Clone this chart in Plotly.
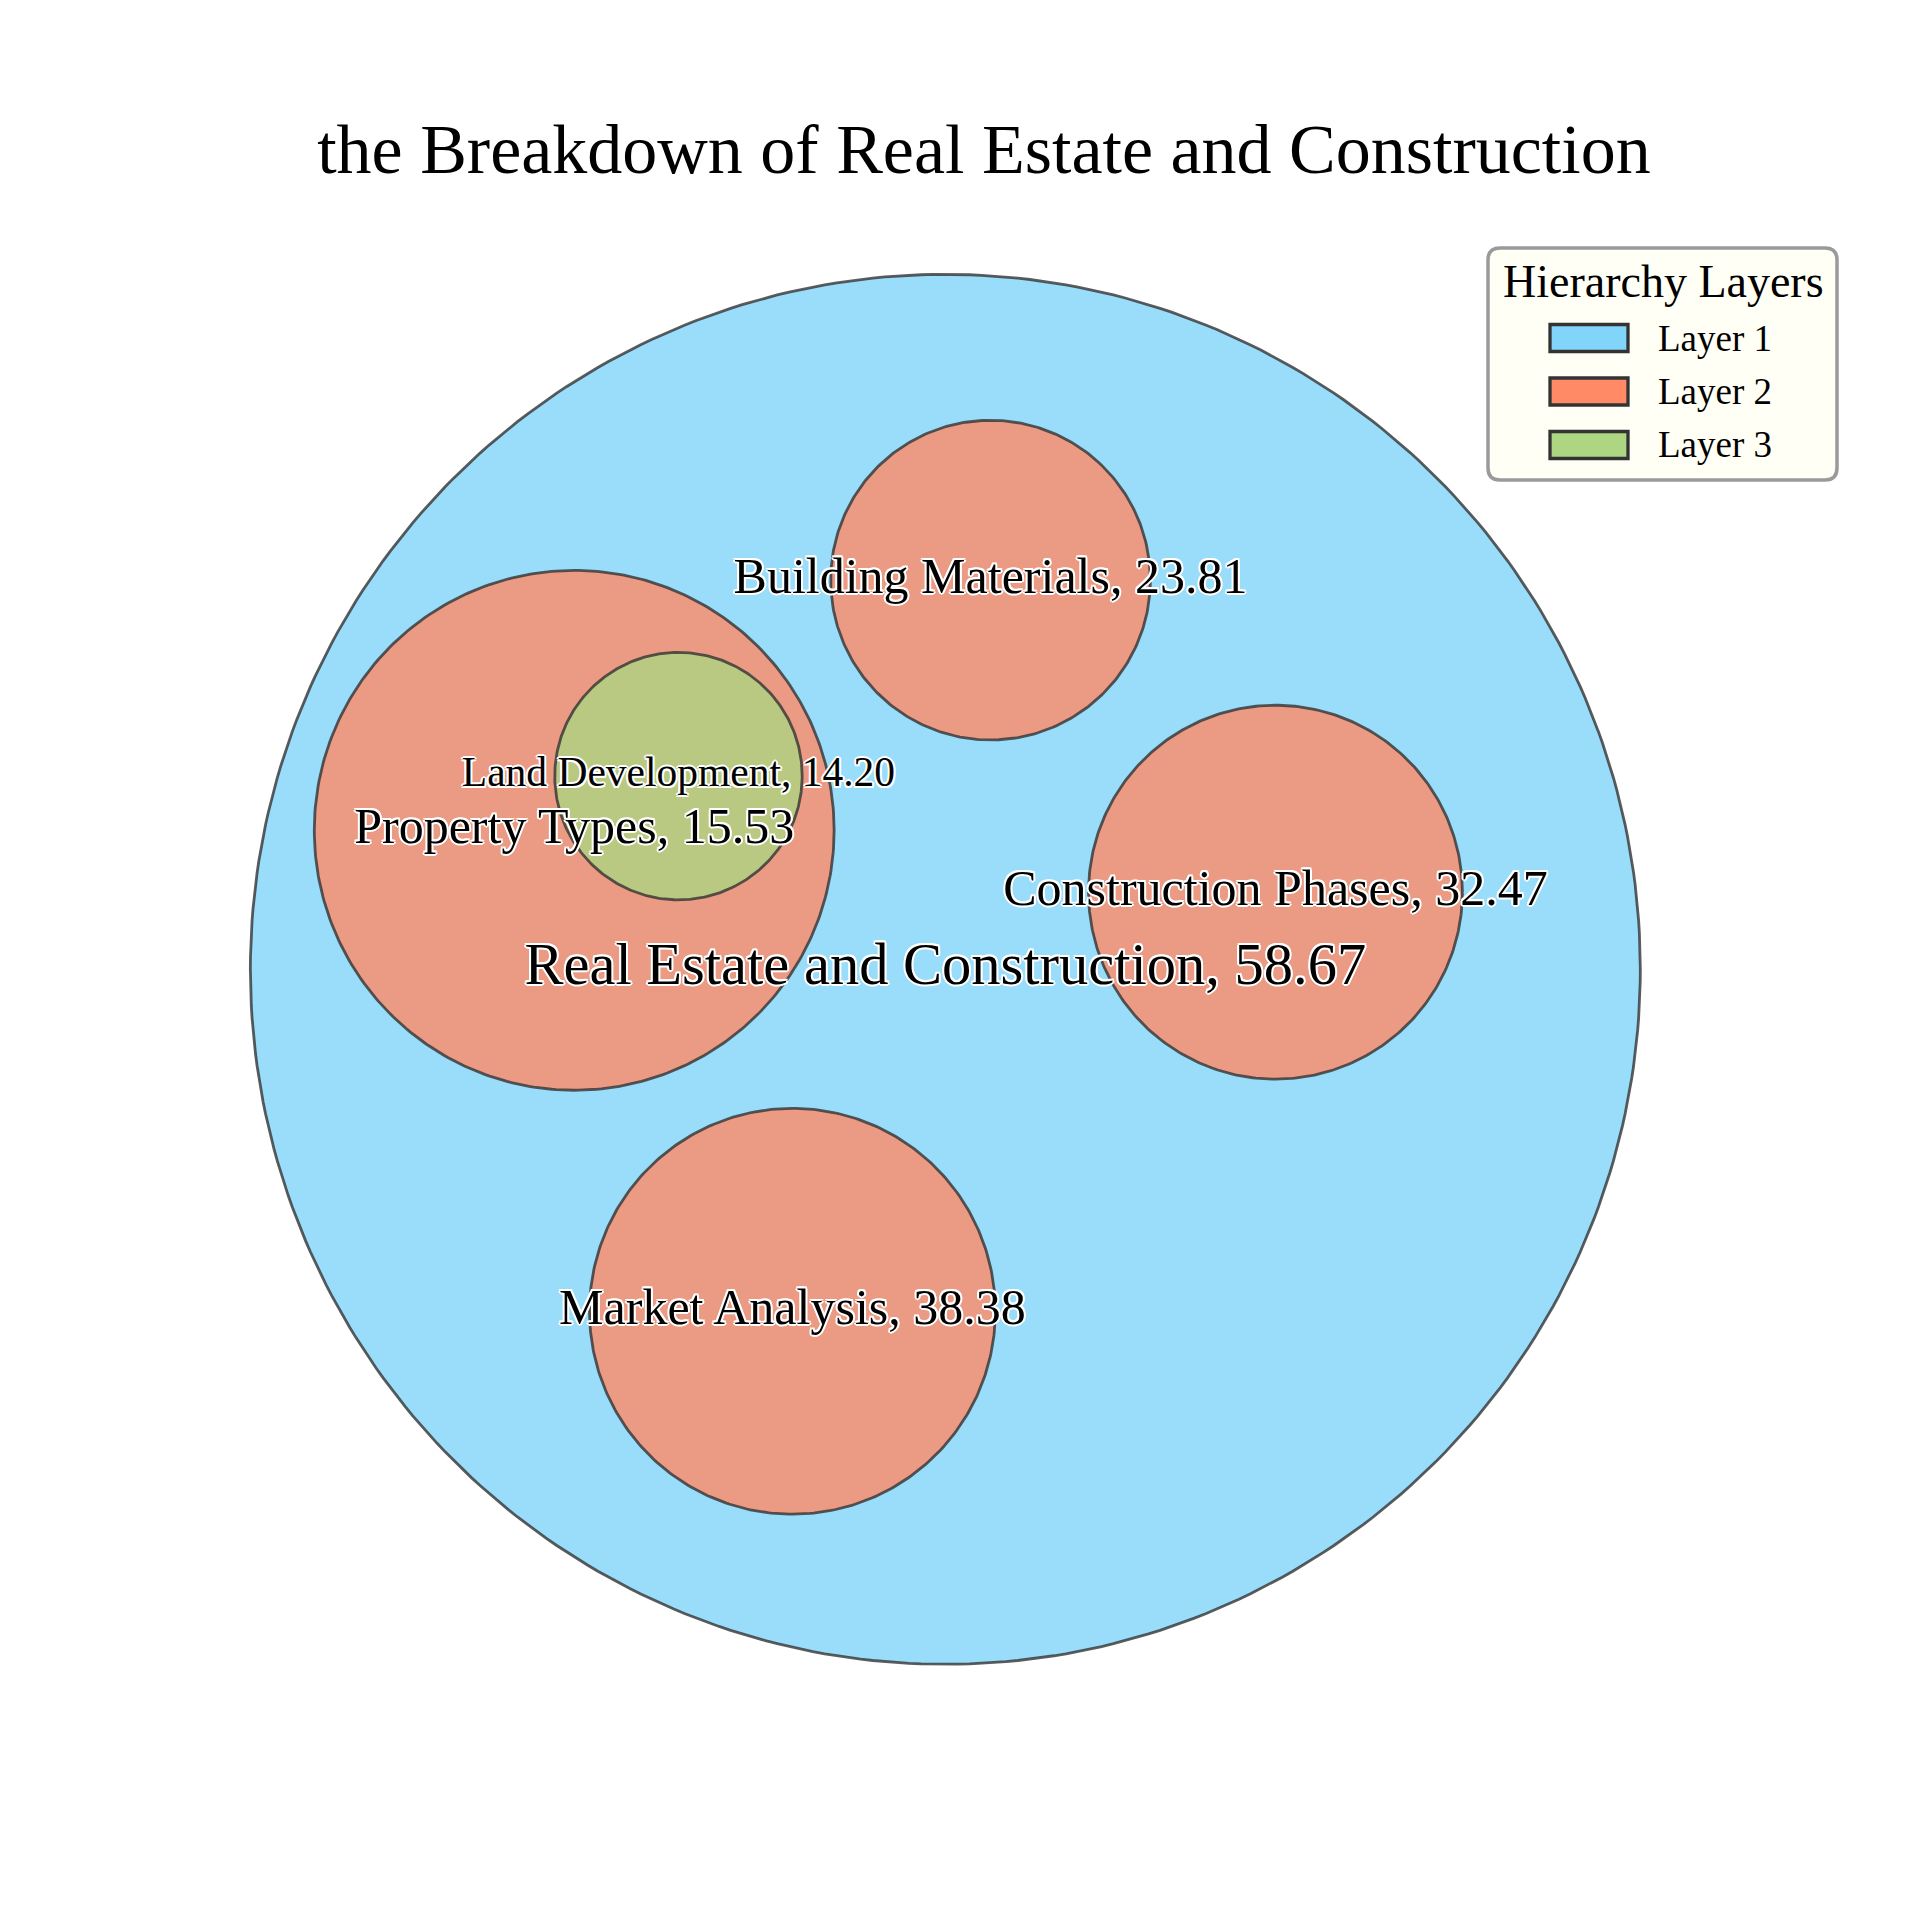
import numpy as np
import plotly.graph_objects as go

# ---- data ----
names = ["Real Estate and Construction", "Property Types", "Land Development",
         "Building Materials", "Construction Phases", "Market Analysis"]
values = [58.67, 15.53, 14.20, 23.81, 32.47, 38.38]
layers = [1, 2, 3, 2, 2, 2]
# circle packing geometry (root circle = unit circle)
cx = [0.000, -0.534, -0.384, 0.065, 0.475, -0.220]
cy = [0.000, 0.200, 0.278, 0.560, 0.111, -0.492]
rad = [1.000, 0.374, 0.178, 0.230, 0.269, 0.292]

layer_names = ["Layer 1", "Layer 2", "Layer 3"]
layer_colors = ["#81D4FA", "#FF8A65", "#AED581"]
layer_fill = ["rgba(129,212,250,0.8)", "rgba(255,138,101,0.8)", "rgba(174,213,129,0.8)"]
label_sizes = {1: 58.5, 2: 50, 3: 41.5}

FONT = "Liberation Serif, Times New Roman, serif"
OUTLINE = ("2px 0 0 white, -2px 0 0 white, 0 2px 0 white, 0 -2px 0 white, "
           "1.5px 1.5px 0 white, -1.5px -1.5px 0 white, 1.5px -1.5px 0 white, -1.5px 1.5px 0 white")

W = H = 1920

fig = go.Figure()
theta = np.linspace(0, 2 * np.pi, 361)

order = sorted(range(len(names)), key=lambda i: layers[i])
for i in order:
    L = layers[i]
    fig.add_trace(go.Scatter(
        x=cx[i] + rad[i] * np.cos(theta), y=cy[i] + rad[i] * np.sin(theta),
        mode="lines", fill="toself", fillcolor=layer_fill[L - 1],
        line=dict(color="rgba(51,51,51,0.8)", width=2.8),
        hoverinfo="text", hovertext=f"{names[i]}, {values[i]:.2f}",
        name=layer_names[L - 1], showlegend=False))

for i in order:
    L = layers[i]
    fig.add_trace(go.Scatter(
        x=[cx[i]], y=[cy[i]], mode="text",
        text=[f"{names[i]}, {values[i]:.2f}"],
        textposition="middle center",
        textfont=dict(family=FONT, size=label_sizes[L], color="black", shadow=OUTLINE),
        hoverinfo="skip", showlegend=False))

# ---- manual legend (box, swatches, texts) ----
def px(x):
    return x / W

def py(y):
    return 1 - y / H

box_l, box_r, box_t, box_b, rr = 1480, 1829, 240, 472, 12
path = (f"M {px(box_l + rr)},{py(box_t)} L {px(box_r - rr)},{py(box_t)} "
        f"Q {px(box_r)},{py(box_t)} {px(box_r)},{py(box_t + rr)} "
        f"L {px(box_r)},{py(box_b - rr)} Q {px(box_r)},{py(box_b)} {px(box_r - rr)},{py(box_b)} "
        f"L {px(box_l + rr)},{py(box_b)} Q {px(box_l)},{py(box_b)} {px(box_l)},{py(box_b - rr)} "
        f"L {px(box_l)},{py(box_t + rr)} Q {px(box_l)},{py(box_t)} {px(box_l + rr)},{py(box_t)} Z")
shapes = [dict(type="path", path=path, xref="paper", yref="paper",
               fillcolor="#FFFFF5", line=dict(color="#9A9A9A", width=3.5), layer="above")]
annotations = [dict(text="Hierarchy Layers", x=px(1655), y=py(273), xref="paper", yref="paper",
                    xanchor="center", yanchor="middle", showarrow=False,
                    font=dict(family=FONT, size=46, color="black"))]
row_y = [330, 383.5, 437]
for k in range(3):
    shapes.append(dict(type="rect", xref="paper", yref="paper",
                       x0=px(1542), x1=px(1620), y0=py(row_y[k] - 13.5), y1=py(row_y[k] + 13.5),
                       fillcolor=layer_colors[k], line=dict(color="#333333", width=3.3), layer="above"))
    annotations.append(dict(text=layer_names[k], x=px(1648), y=py(row_y[k]), xref="paper", yref="paper",
                            xanchor="left", yanchor="middle", showarrow=False,
                            font=dict(family=FONT, size=37, color="black")))

fig.update_layout(
    width=W, height=H,
    margin=dict(l=0, r=0, t=0, b=0),
    paper_bgcolor="white", plot_bgcolor="white",
    title=dict(text="the Breakdown of Real Estate and Construction",
               font=dict(family=FONT, size=70, color="black"),
               x=0.5083, xanchor="center", y=0.9267, yanchor="middle", xref="paper", yref="container"),
    xaxis=dict(range=[-1.3487, 1.4139], visible=False, showgrid=False, zeroline=False),
    yaxis=dict(range=[-1.3794, 1.3832], visible=False, showgrid=False, zeroline=False),
    shapes=shapes,
    annotations=annotations,
    showlegend=False,
)

fig.write_html("out.html")
